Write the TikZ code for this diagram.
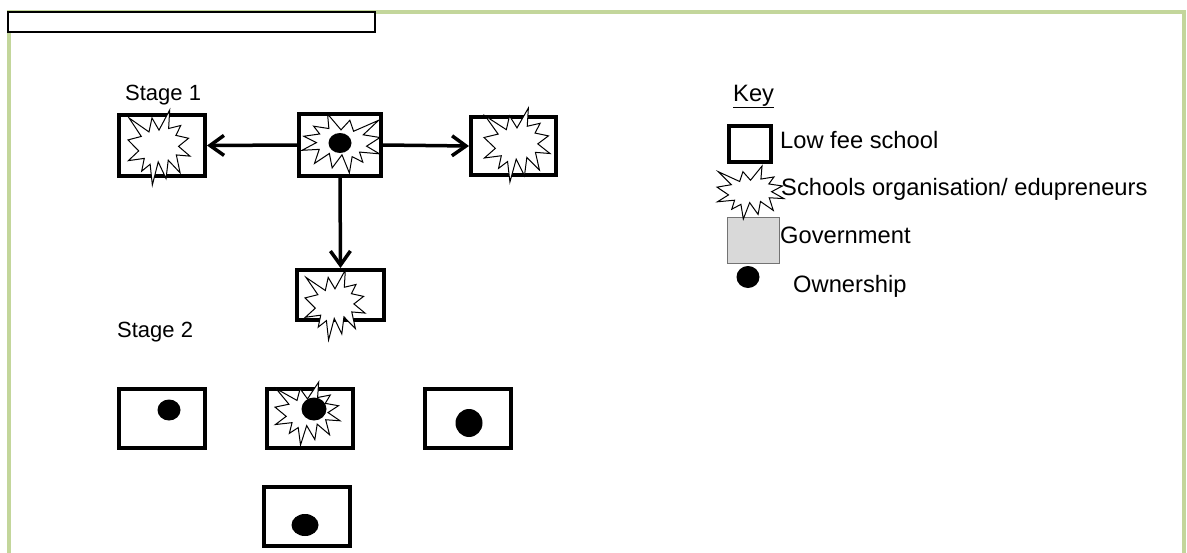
\documentclass[tikz,border=0pt]{standalone}
\usepackage{fontspec}
\setmainfont{Liberation Sans}
\usetikzlibrary{arrows.meta,shapes.geometric}

\definecolor{framegreen}{HTML}{C3D69B}
\definecolor{govgray}{HTML}{D9D9D9}

% Irregular "explosion" outline, fitted into a w x h box whose top-left corner is (x0,y0)
\newcommand\explosion[4]{%
  \filldraw[burst,shift={(#1,#2)},xscale={#3/216},yscale={#4/216}]
    (108,58) -- (145.22,0) -- (141.55,53.25) -- (183.80,44.57) -- (167.02,73.15)
    -- (210.97,81.37) -- (176.07,104.75) -- (216,132.90) -- (168.37,129.42)
    -- (181.45,180.95) -- (140.20,144.57) -- (132.47,197.37) -- (105.32,149.35)
    -- (84.85,216) -- (77.15,156.27) -- (47.62,176.17) -- (56.67,139.37)
    -- (1.35,145.87) -- (37.22,117.75) -- (0,86.15) -- (46.27,76.17)
    -- (3.70,22.95) -- (73.12,63.20) -- (83.52,22.95) -- cycle;}
% Same outline, mirrored left to right
\newcommand\explosionflip[4]{%
  \filldraw[burst,shift={({#1+#3},#2)},xscale={-#3/216},yscale={#4/216}]
    (108,58) -- (145.22,0) -- (141.55,53.25) -- (183.80,44.57) -- (167.02,73.15)
    -- (210.97,81.37) -- (176.07,104.75) -- (216,132.90) -- (168.37,129.42)
    -- (181.45,180.95) -- (140.20,144.57) -- (132.47,197.37) -- (105.32,149.35)
    -- (84.85,216) -- (77.15,156.27) -- (47.62,176.17) -- (56.67,139.37)
    -- (1.35,145.87) -- (37.22,117.75) -- (0,86.15) -- (46.27,76.17)
    -- (3.70,22.95) -- (73.12,63.20) -- (83.52,22.95) -- cycle;}
% School box given by its outer corners
\newcommand\schoolbox[5]{%
  \node[schoolframe,minimum width={#4-#2-4},minimum height={#5-#3-4}]
    (#1) at ({(#2+#4)/2},{(#3+#5)/2}) {};}
% Ownership dot: name, centre, width, height
\newcommand\owndot[5]{%
  \node[owner,minimum width=#4,minimum height=#5] (#1) at (#2,#3) {};}

\tikzset{
  schoolframe/.style={draw=black,line width=4pt,fill=white,rectangle,inner sep=0pt},
  burst/.style={draw=black,fill=white,line width=1pt,line join=miter},
  owner/.style={ellipse,fill=black,draw=none,inner sep=0pt},
  link/.style={line width=3.5pt,-{Straight Barb[length=14pt,width=20pt,line width=3.5pt]}},
  stagetext/.style={anchor=base west,inner sep=0pt,font=\fontsize{22}{26}\selectfont},
  keytext/.style={anchor=base west,inner sep=0pt,font=\fontsize{23.7}{28}\selectfont},
}

\begin{document}
\begin{tikzpicture}[x=1pt,y=-1pt]
\useasboundingbox (0,0) rectangle (1187,552);

% outer frame and header strip
\draw[framegreen,line width=3.5pt] (9,560) -- (9,12) -- (1184,12) -- (1184,560);
\draw[black,line width=1.3pt,fill=white] (8,12) rectangle (375,32);

% Stage 1
\node[stagetext] (stage1) at (125,100) {Stage 1};
\schoolbox{s1l}{117}{113}{207}{178}
\schoolbox{s1c}{297}{112}{383}{178}
\schoolbox{s1r}{469}{115}{558}{177}
\schoolbox{s1d}{295}{268}{386}{322}
\explosion{128}{110}{62}{75}
\explosionflip{302}{114}{78}{59}
\explosion{484}{108}{66}{74}
\explosion{305}{270}{60}{70}
\owndot{c1}{340}{143}{23}{20}

\draw[link] (s1c.west) -- (s1l.east);
\draw[link] (s1c.east) -- (s1r.west);
\draw[link] (s1c.south) -- (s1d.north);

% Stage 2
\node[stagetext] (stage2) at (117,337) {Stage 2};
\schoolbox{s2a}{117}{387}{207}{450}
\schoolbox{s2b}{265}{387}{355}{450}
\schoolbox{s2c}{423}{387}{513}{450}
\schoolbox{s2d}{262}{485}{352}{548}
\explosion{275}{382}{65}{63}
\owndot{a2}{169}{410}{23}{21}
\owndot{b2}{314}{409}{25}{23}
\owndot{c2}{469}{423}{27}{28}
\owndot{d2}{305}{525}{27}{22}

% Key
\node[keytext] (key) at (733,101) {\underline{Key}};
\node[draw=black,line width=3.5pt,fill=white,inner sep=0pt,minimum width=42,minimum height=36]
  (keyschool) at (750,144) {};
\node[draw=black!55,line width=1pt,fill=govgray,inner sep=0pt,minimum width=52,minimum height=46]
  (keygov) at (753,240) {};
\explosion{717}{166}{67}{53}
\owndot{keydot}{748}{277}{23}{22}
\node[keytext] (t1) at (780,148) {Low fee school};
\node[keytext] (t2) at (781,195) {Schools organisation/ edupreneurs};
\node[keytext] (t3) at (780,243) {Government};
\node[keytext] (t4) at (793,292) {Ownership};
\end{tikzpicture}
\end{document}
